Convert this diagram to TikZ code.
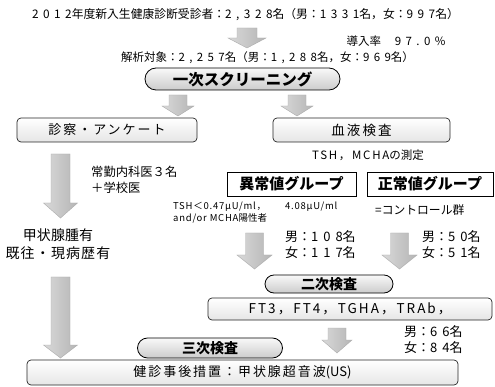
\documentclass[tikz,border=0pt]{standalone}
\usepackage{fontspec}
\setmainfont{Noto Sans CJK JP}
\newfontfamily\ls[LetterSpace=38]{Noto Sans CJK JP}
\newfontfamily\lsm[LetterSpace=15]{Noto Sans CJK JP}
\newfontfamily\lss[LetterSpace=8]{Noto Sans CJK JP}
\tikzset{
  txt/.style={inner sep=0pt, font=\fontsize{11.5}{13}\selectfont},
  small/.style={inner sep=0pt, font=\fontsize{9.5}{11}\selectfont, align=left},
  pill/.style={draw=black, line width=0.8pt, top color=gray!5, bottom color=gray!40, inner sep=0pt, font=\bfseries\fontsize{14}{16}\selectfont},
  rbox/.style={draw=black!85, line width=0.7pt, rounded corners=4pt, top color=white, bottom color=gray!20, inner sep=0pt},
  grp/.style={draw=black, line width=0.9pt, fill=white, inner sep=0pt, minimum height=24pt, font=\bfseries\fontsize{15}{17}\selectfont},
  arr/.style={left color=gray!30, right color=gray!58, draw=gray!65, line width=0.4pt}
}
\newcommand\barrow[6]{%
  \path[arr] (#1-#5,#2) -- (#1+#5,#2) -- (#1+#5,#3) -- (#1+#6,#3) -- (#1,#4) -- (#1-#6,#3) -- (#1-#5,#3) -- cycle;}
\begin{document}
\begin{tikzpicture}[x=1pt,y=-1pt]
\useasboundingbox (0,0) rectangle (495,387);
\fill[white] (0,0) rectangle (495,387);

% texts at top
\node[txt, font=\fontsize{11.8}{13}\selectfont] (l1) at (245.5,15) {{\ls 2012}年度新入生健康診断受診者：{\ls 2,328}名（男：{\ls 1331}名，女：{\ls 997}名）};
\node[txt] (rate) at (396,41) {導入率\hspace{1.2em}{\ls 97.0\%}};
\node[txt] (l2) at (267.5,58) {解析対象：{\ls 2,257}名（男：{\ls 1,288}名，女：{\ls 969}名）};

% arrows
\barrow{247}{28}{38}{48}{10}{19}
\barrow{178}{95}{106}{116}{9}{16}
\barrow{297}{95}{106}{116}{9}{16}
\barrow{60.5}{154}{203}{218}{9.5}{17}
\barrow{254.5}{233}{255}{269}{9}{17.5}
\barrow{399.5}{233}{255}{269}{9}{17.5}
\barrow{337}{328}{340}{353}{9}{15}
\barrow{60.5}{277}{345}{358}{9.5}{17}

% pill 1
\node[pill, minimum width=195pt, minimum height=22pt, rounded corners=11pt, font=\bfseries\fontsize{15.5}{17}\selectfont] (p1) at (242.5,79) {一次スクリーニング};

% boxes row
\node[rbox, minimum width=180pt, minimum height=24pt, font=\fontsize{13}{15}\selectfont] (b1) at (107,130) {{\lsm 診察・アンケート}};
\node[rbox, minimum width=177pt, minimum height=24pt, font=\fontsize{13.5}{15}\selectfont] (b2) at (361.5,130) {{\lsm 血液検査}};
\node[txt] (tsh) at (368,155) {{\lsm TSH，MCHA}の測定};

\node[txt, anchor=west, font=\fontsize{12.3}{14}\selectfont] (doc1) at (91,172) {常勤内科医３名};
\node[txt, anchor=west, font=\fontsize{12.3}{14}\selectfont] (doc2) at (91,188) {＋学校医};

\node[txt, font=\fontsize{14}{16}\selectfont] (k1) at (58,235) {甲状腺腫有};
\node[txt, font=\fontsize{14}{16}\selectfont] (k2) at (58,253) {{\lss 既往・現病歴有}};

% groups
\node[grp, minimum width=129pt] (g1) at (291.5,184) {異常値グループ};
\node[grp, minimum width=126pt] (g2) at (430,184) {正常値グループ};

\node[small, anchor=west] (t1) at (173,207) {{\lss TSH＜0.47μU/ml，}\hspace{2em}{\lss 4.08μU/ml}};
\node[small, anchor=west] (t2) at (173,218) {{\lss and/or MCHA}陽性者};
\node[txt, anchor=west, font=\fontsize{11.8}{13}\selectfont] (ctrl) at (375,210) {=コントロール群};

\node[txt, anchor=west, font=\fontsize{13}{15}\selectfont] (m1) at (285,237) {男：{\ls 108}名};
\node[txt, anchor=west, font=\fontsize{13}{15}\selectfont] (f1) at (285,253) {女：{\ls 117}名};
\node[txt, anchor=west, font=\fontsize{13}{15}\selectfont] (m2) at (422,237) {男：{\ls 50}名};
\node[txt, anchor=west, font=\fontsize{13}{15}\selectfont] (f2) at (422,253) {女：{\ls 51}名};

% pill 2
\node[pill, minimum width=128pt, minimum height=18pt, rounded corners=9pt] (p2) at (329,284) {二次検査};

\node[rbox, minimum width=284pt, minimum height=22pt, font=\fontsize{13.5}{15}\selectfont] (b3) at (350,309) {{\lsm FT3，FT4，TGHA，TRAb，}};

\node[txt, anchor=west, font=\fontsize{13}{15}\selectfont] (m3) at (404,332) {男：{\ls 66}名};
\node[txt, anchor=west, font=\fontsize{13}{15}\selectfont] (f3) at (404,348) {女：{\ls 84}名};

% final box and pill 3
\node[rbox, minimum width=431pt, minimum height=25pt, font=\fontsize{13}{15}\selectfont] (b4) at (242.5,372.5) {{\lsm 健診事後措置：甲状腺超音波}(US)};
\node[pill, minimum width=145pt, minimum height=20pt, rounded corners=10pt] (p3) at (210,348) {三次検査};
\end{tikzpicture}
\end{document}
